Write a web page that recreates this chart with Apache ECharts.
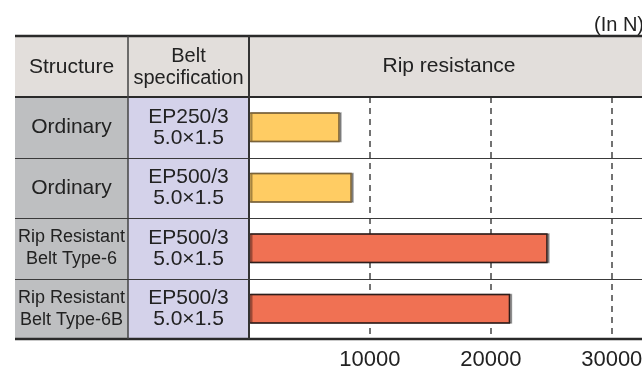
<!DOCTYPE html>
<html>
<head>
<meta charset="utf-8">
<script src="https://cdn.jsdelivr.net/npm/echarts@6/dist/echarts.min.js"></script>
<style>
  html, body { margin: 0; padding: 0; background: #fff; }
  #chart { width: 642px; height: 371px; }
</style>
</head>
<body>
<div id="chart"></div>
<script>
var structures = ['Ordinary', 'Ordinary', 'Rip Resistant\nBelt Type-6', 'Rip Resistant\nBelt Type-6B']
var specs = ['EP250/3\n5.0×1.5', 'EP500/3\n5.0×1.5', 'EP500/3\n5.0×1.5', 'EP500/3\n5.0×1.5']
var ripResistance = [7500, 8500, 24700, 21600]
var headers = ['Structure', 'Belt\nspecification', 'Rip resistance']
var unitLabel = '(In N)'

// table layout
var FONT = '"Liberation Sans", Arial, Helvetica, sans-serif'
var X0 = 15, X1 = 128, X2 = 249, W = 642
var TOP = 36, HEAD = 97, BOTTOM = 339
var rowH = (BOTTOM - HEAD) / structures.length

function barStyle (s) {
  if (s.indexOf('Ordinary') === 0) {
    return { color: '#FFCC63', borderColor: '#7a6238' }
  }
  return { color: '#F07153', borderColor: '#2e1d1a' }
}

var graphics = [
  // backgrounds
  { type: 'rect', z: 0, shape: { x: X0, y: TOP, width: W - X0, height: HEAD - TOP }, style: { fill: '#E2DEDB' } },
  { type: 'rect', z: 0, shape: { x: X0, y: HEAD, width: X1 - X0, height: BOTTOM - HEAD }, style: { fill: '#BEBFC1' } },
  { type: 'rect', z: 0, shape: { x: X1, y: HEAD, width: X2 - X1, height: BOTTOM - HEAD }, style: { fill: '#D4D2EA' } },
  // header texts
  { type: 'text', z: 20, style: { x: (X0 + X1) / 2, y: 67, text: headers[0], font: '21px ' + FONT, fill: '#222', textAlign: 'center', textVerticalAlign: 'middle' } },
  { type: 'text', z: 20, style: { x: (X1 + X2) / 2, y: 67, text: headers[1], font: '20px ' + FONT, lineHeight: 22, fill: '#222', textAlign: 'center', textVerticalAlign: 'middle' } },
  { type: 'text', z: 20, style: { x: 449, y: 66, text: headers[2], font: '21px ' + FONT, fill: '#222', textAlign: 'center', textVerticalAlign: 'middle' } },
  { type: 'text', z: 20, style: { x: 594, y: 25, text: unitLabel, font: '20px ' + FONT, fill: '#222', textAlign: 'left', textVerticalAlign: 'middle' } },
  // frame lines
  { type: 'line', z: 15, shape: { x1: X0, y1: TOP, x2: W, y2: TOP }, style: { stroke: '#2a2a2a', lineWidth: 2.5 } },
  { type: 'line', z: 15, shape: { x1: X0, y1: HEAD, x2: W, y2: HEAD }, style: { stroke: '#2a2a2a', lineWidth: 2 } },
  { type: 'line', z: 15, shape: { x1: X0, y1: BOTTOM, x2: W, y2: BOTTOM }, style: { stroke: '#2a2a2a', lineWidth: 2.5 } },
  { type: 'line', z: 15, shape: { x1: X1, y1: TOP, x2: X1, y2: BOTTOM }, style: { stroke: '#444', lineWidth: 1.5 } },
  { type: 'line', z: 15, shape: { x1: X2, y1: TOP, x2: X2, y2: BOTTOM }, style: { stroke: '#333', lineWidth: 2 } }
]
for (var i = 1; i < structures.length; i++) {
  var y = Math.round(HEAD + rowH * i) + 0.5
  graphics.push({ type: 'line', z: 15, shape: { x1: X0, y1: y, x2: W, y2: y }, style: { stroke: '#3a3a3a', lineWidth: 1.2 } })
}

var chart = echarts.init(document.getElementById('chart'))
chart.setOption({
  animation: false,
  textStyle: { fontFamily: FONT },
  grid: { left: X2, top: HEAD, right: 0, bottom: 371 - BOTTOM, outerBoundsMode: 'none', containLabel: false },
  xAxis: {
    type: 'value',
    min: 0,
    max: 32500,
    interval: 10000,
    axisLine: { show: false },
    axisTick: { show: false },
    axisLabel: {
      showMinLabel: false,
      showMaxLabel: false,
      margin: 10,
      fontSize: 22,
      color: '#222',
      formatter: function (v) { return String(v) }
    },
    splitLine: { showMinLine: false, showMaxLine: false, lineStyle: { color: '#444', width: 1.5, type: [6, 5] } }
  },
  yAxis: [
    {
      type: 'category',
      inverse: true,
      data: specs,
      z: 5,
      axisLine: { show: false },
      axisTick: { show: false },
      splitLine: { show: false },
      axisLabel: { margin: (X2 - X1) / 2, align: 'center', fontSize: 21, lineHeight: 21, color: '#222' }
    },
    {
      type: 'category',
      inverse: true,
      position: 'left',
      data: structures,
      z: 5,
      axisLine: { show: false },
      axisTick: { show: false },
      splitLine: { show: false },
      axisLabel: {
        margin: X2 - (X0 + X1) / 2,
        align: 'center',
        color: '#222',
        formatter: function (v) {
          if (v.indexOf('\n') < 0) return '{big|' + v + '}'
          return v.split('\n').map(function (s) { return '{small|' + s + '}' }).join('\n')
        },
        rich: {
          big: { fontSize: 21, fontFamily: FONT, color: '#222' },
          small: { fontSize: 18, lineHeight: 22, fontFamily: FONT, color: '#222' }
        }
      }
    }
  ],
  series: [{
    type: 'bar',
    yAxisIndex: 0,
    barWidth: 30,
    z: 3,
    data: ripResistance.map(function (v, i) {
      var s = barStyle(structures[i])
      return {
        value: v,
        itemStyle: {
          color: s.color,
          borderColor: s.borderColor,
          borderWidth: 1.5,
          shadowColor: 'rgba(0,0,0,0.35)',
          shadowOffsetX: 2,
          shadowOffsetY: 0,
          shadowBlur: 0
        }
      }
    })
  }],
  graphic: graphics
})
</script>
</body>
</html>
